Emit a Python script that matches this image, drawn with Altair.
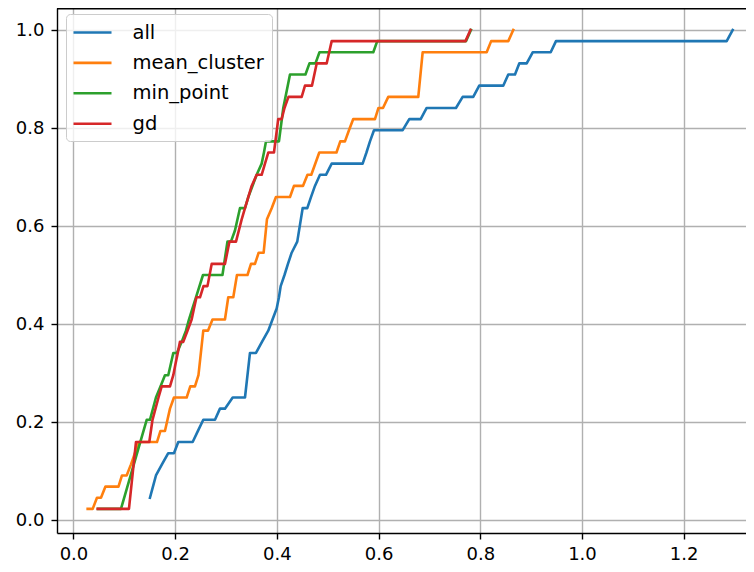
import altair as alt
import pandas as pd

series_names = ["all", "mean_cluster", "min_point", "gd"]
series_colors = ["#1f77b4", "#ff7f0e", "#2ca02c", "#d62728"]

all_x = [0.1504, 0.1563, 0.1622, 0.1740, 0.1864, 0.1976, 0.2061, 0.2344, 0.2448, 0.2553,
         0.2783, 0.2881, 0.2979, 0.3131, 0.3373, 0.3471, 0.3589, 0.3707, 0.3831, 0.3914,
         0.3996, 0.4041, 0.4075, 0.4150, 0.4218, 0.4291, 0.4401, 0.4507, 0.4598, 0.4671,
         0.4749, 0.4848, 0.4966, 0.5078, 0.5687, 0.5762, 0.5831, 0.5910, 0.6474, 0.6604,
         0.6828, 0.6946, 0.7522, 0.7654, 0.7862, 0.7980, 0.8452, 0.8551, 0.8683, 0.8767,
         0.8913, 0.9031, 0.9385, 0.9489, 1.2846, 1.2964]
all_y = [0.0455, 0.0682, 0.0909, 0.1136, 0.1364, 0.1364, 0.1591, 0.1591, 0.1818, 0.2045,
         0.2045, 0.2273, 0.2273, 0.25, 0.25, 0.3409, 0.3409, 0.3636, 0.3864, 0.4091,
         0.4318, 0.4545, 0.4773, 0.5, 0.5227, 0.5455, 0.5682, 0.6364, 0.6364, 0.6591,
         0.6818, 0.7045, 0.7045, 0.7273, 0.7273, 0.75, 0.7727, 0.7955, 0.7955, 0.8182,
         0.8182, 0.8409, 0.8409, 0.8636, 0.8636, 0.8864, 0.8864, 0.9091, 0.9091, 0.9318,
         0.9318, 0.9545, 0.9545, 0.9773, 0.9773, 1.0]

mean_cluster_x = [0.0279, 0.0378, 0.0462, 0.0541, 0.0629, 0.0885, 0.0954, 0.1046, 0.1131, 0.1209,
                  0.1288, 0.1642, 0.1711, 0.1799, 0.1898, 0.1976, 0.2226, 0.2297, 0.2389, 0.2458,
                  0.2553, 0.2645, 0.2734, 0.2979, 0.3044, 0.3143, 0.3215, 0.3422, 0.3491, 0.3569,
                  0.3642, 0.3740, 0.3805, 0.3898, 0.3982, 0.4258, 0.4336, 0.4513, 0.4602, 0.4677,
                  0.4834, 0.5172, 0.5247, 0.5339, 0.5418, 0.5502, 0.5929, 0.5998, 0.6087, 0.6191,
                  0.6781, 0.6867, 0.8126, 0.8214, 0.8551, 0.8649]
mean_cluster_y = [0.0227, 0.0227, 0.0455, 0.0455, 0.0682, 0.0682, 0.0909, 0.0909, 0.1136, 0.1364,
                  0.1591, 0.1591, 0.1818, 0.1818, 0.2273, 0.25, 0.25, 0.2727, 0.2727, 0.2955,
                  0.3864, 0.3864, 0.4091, 0.4091, 0.4545, 0.4545, 0.5, 0.5, 0.5227, 0.5227,
                  0.5455, 0.5455, 0.6136, 0.6364, 0.6591, 0.6591, 0.6818, 0.6818, 0.7045, 0.7045,
                  0.75, 0.75, 0.7727, 0.7727, 0.7955, 0.8182, 0.8182, 0.8409, 0.8409, 0.8636,
                  0.8636, 0.9545, 0.9545, 0.9773, 0.9773, 1.0]

min_point_x = [0.0482, 0.0934, 0.1440, 0.1504, 0.1622, 0.1711, 0.1799, 0.1864, 0.1963, 0.2035,
               0.2128, 0.2212, 0.2271, 0.2340, 0.2409, 0.2547, 0.2930, 0.3028, 0.3097, 0.3176,
               0.3274, 0.3373, 0.3438, 0.3520, 0.3603, 0.3701, 0.3746, 0.3786, 0.4041, 0.4126,
               0.4258, 0.4562, 0.4641, 0.4759, 0.4838, 0.5896, 0.5974, 0.7719, 0.7817]
min_point_y = [0.0227, 0.0227, 0.2045, 0.2045, 0.25, 0.2727, 0.2955, 0.2955, 0.3409, 0.3409,
               0.3636, 0.3864, 0.4091, 0.4318, 0.4545, 0.5, 0.5, 0.5682, 0.5682, 0.5909,
               0.6364, 0.6364, 0.6591, 0.6818, 0.7045, 0.7273, 0.75, 0.7727, 0.7727, 0.8409,
               0.9091, 0.9091, 0.9318, 0.9318, 0.9545, 0.9545, 0.9773, 0.9773, 1.0]

gd_x = [0.0476, 0.1091, 0.1229, 0.1491, 0.1554, 0.1613, 0.1672, 0.1735, 0.1898, 0.1963,
        0.2006, 0.2051, 0.2094, 0.2159, 0.2242, 0.2324, 0.2370, 0.2419, 0.2488, 0.2557,
        0.2635, 0.2718, 0.2979, 0.3068, 0.3196, 0.3308, 0.3373, 0.3438, 0.3504, 0.3603,
        0.3701, 0.3766, 0.3831, 0.3943, 0.4027, 0.4094, 0.4150, 0.4228, 0.4488, 0.4553,
        0.4690, 0.4783, 0.4979, 0.5078, 0.7709, 0.7807]
gd_y = [0.0227, 0.0227, 0.1591, 0.1591, 0.2045, 0.2273, 0.25, 0.2727, 0.2727, 0.2955,
        0.3182, 0.3409, 0.3636, 0.3636, 0.3864, 0.4091, 0.4318, 0.4545, 0.4545, 0.4773,
        0.4773, 0.5227, 0.5227, 0.5682, 0.5682, 0.6136, 0.6364, 0.6591, 0.6818, 0.7045,
        0.7045, 0.7273, 0.75, 0.75, 0.8182, 0.8182, 0.8409, 0.8636, 0.8636, 0.8864,
        0.8864, 0.9318, 0.9318, 0.9773, 0.9773, 1.0]

x_ticks = [0.0, 0.2, 0.4, 0.6, 0.8, 1.0, 1.2]
y_ticks = [0.0, 0.2, 0.4, 0.6, 0.8, 1.0]

rows = []
for name, xs, ys in zip(series_names,
                        [all_x, mean_cluster_x, min_point_x, gd_x],
                        [all_y, mean_cluster_y, min_point_y, gd_y]):
    for i, (a, b) in enumerate(zip(xs, ys)):
        rows.append({"x": a, "y": b, "series": name, "i": i})
df = pd.DataFrame(rows)

W, H = 689, 525
xscale = alt.Scale(domain=[-0.0324, 1.3226], nice=False, zero=False)
yscale = alt.Scale(domain=[-0.0265, 1.0449], nice=False, zero=False)

color = alt.Color(
    "series:N",
    scale=alt.Scale(domain=series_names, range=series_colors),
    legend=alt.Legend(
        title=None, orient="none", legendX=9, legendY=6,
        symbolType="M-2,0H2", symbolSize=361, symbolStrokeWidth=2.6,
        symbolOffset=8,
        labelFont="DejaVu Sans", labelFontSize=19.5, labelColor="black",
        labelOffset=29, rowPadding=9.4, padding=7.5,
        fillColor="rgba(255,255,255,0.8)", strokeColor="#cccccc",
        cornerRadius=4,
    ),
)

layers = []
for name in series_names:
    layers.append(
        alt.Chart(df)
        .transform_filter(alt.datum.series == name)
        .mark_line(strokeWidth=2.6, strokeCap="square", strokeJoin="round")
        .encode(
            x=alt.X("x:Q", scale=xscale, title=None,
                    axis=alt.Axis(values=x_ticks, format=".1f")),
            y=alt.Y("y:Q", scale=yscale, title=None,
                    axis=alt.Axis(values=y_ticks, format=".1f")),
            color=color,
            order=alt.Order("i:Q"),
        )
    )

top_spine = alt.Chart(pd.DataFrame({"a": [0]})).mark_rule(
    color="black", strokeWidth=1.4
).encode(x=alt.value(0), x2=alt.value(W), y=alt.value(0.7))

chart = (
    alt.layer(*layers, top_spine)
    .properties(
        width=W, height=H,
        padding={"left": 49, "top": 0, "right": 0, "bottom": 31},
        autosize=alt.AutoSizeParams(type="none"),
        background="white",
    )
    .configure_view(strokeWidth=0)
    .configure_axis(
        labelFont="DejaVu Sans", labelFontSize=18, labelColor="black",
        tickColor="black", tickWidth=1.4, tickSize=6,
        domainColor="black", domainWidth=1.4,
        grid=True, gridColor="#b0b0b0", gridWidth=1.4,
    )
    .configure_axisX(labelPadding=6)
    .configure_axisY(labelPadding=7)
)

chart.save("out.html", embed_options={"renderer": "svg", "actions": False})
